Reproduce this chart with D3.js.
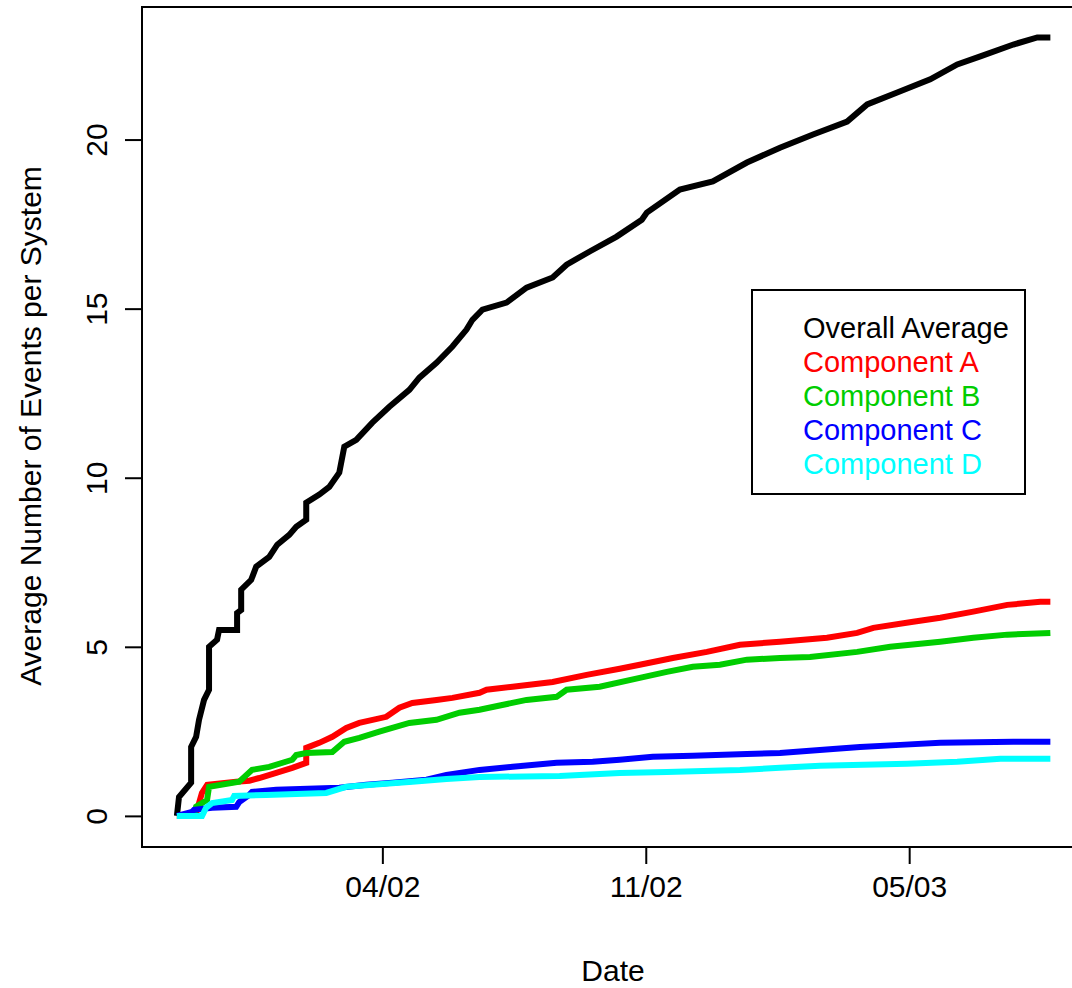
<!DOCTYPE html>
<html>
<head>
<meta charset="utf-8">
<script src="https://cdn.jsdelivr.net/npm/d3@7"></script>
<style>
    body { margin: 0; background: #fff; }
    text { font-family: "Liberation Sans", Arial, sans-serif; }
</style>
</head>
<body>
<div id="chart"></div>
<script>
// day index since start of tracking, cumulative average events per system
const overallAverage = [
    [44, 0], [45.6, 0.56], [54.8, 0.98], [54.8, 2.04], [58.6, 2.34], [60.8, 2.84], [64.6, 3.43],
    [68.4, 3.73], [68.4, 5.0], [74.5, 5.21], [76, 5.5], [89.7, 5.5], [89.7, 6.0], [92.8, 6.09],
    [92.8, 6.69], [100.4, 6.98], [104.2, 7.37], [114.1, 7.66], [120.2, 8.02], [129.3, 8.31],
    [134.6, 8.55], [142.2, 8.76], [142.2, 9.26], [152.1, 9.5], [159.7, 9.73], [167.3, 10.15],
    [171.1, 10.92], [180.2, 11.12], [192.4, 11.63], [205.3, 12.1], [220.5, 12.6], [228.1, 12.96],
    [241.1, 13.4], [253.2, 13.88], [263.9, 14.38], [268.4, 14.67], [276, 14.97], [294.3, 15.18],
    [309.5, 15.62], [329.3, 15.92], [339.9, 16.3], [357.4, 16.69], [377.9, 17.13], [397, 17.63],
    [400.8, 17.84], [425.9, 18.52], [450.9, 18.76], [476.8, 19.32], [501.9, 19.76], [527, 20.15],
    [552.9, 20.53], [568.1, 21.04], [590.9, 21.39], [616, 21.78], [636.5, 22.22], [654, 22.46],
    [679.1, 22.81], [697.3, 23.02], [707.2, 23.02]
];
const componentA = [
    [44, 0], [58, 0], [60, 0.27], [63, 0.68], [67, 0.92], [89, 1.01], [99, 1.04], [106.5, 1.12],
    [119.4, 1.27], [131.6, 1.42], [142.2, 1.57], [142.2, 2.01], [152.1, 2.16], [162, 2.34],
    [172.6, 2.6], [182.5, 2.75], [203, 2.93], [212.9, 3.2], [222.8, 3.34], [241.1, 3.43],
    [253.2, 3.49], [273.8, 3.64], [279.1, 3.73], [298.9, 3.82], [329.3, 3.96], [355.1, 4.17],
    [380.2, 4.35], [395.4, 4.47], [420.5, 4.67], [446.4, 4.85], [471.5, 5.06], [501.9, 5.15],
    [537.6, 5.27], [560.5, 5.41], [572.8, 5.56], [603, 5.74], [623.6, 5.86], [648.7, 6.04],
    [674.5, 6.24], [699.6, 6.33], [707.2, 6.33]
];
const componentB = [
    [44, 0], [57, 0], [58.6, 0.27], [66.9, 0.47], [68.4, 0.86], [91.3, 1.01], [101.1, 1.36],
    [114.1, 1.45], [131.6, 1.66], [134.6, 1.8], [142.2, 1.86], [162, 1.89], [171.1, 2.19],
    [182.5, 2.31], [197.7, 2.49], [220.5, 2.75], [241.1, 2.84], [258.6, 3.05], [273.8, 3.14],
    [283.7, 3.22], [309.5, 3.43], [332.3, 3.52], [339.9, 3.73], [365, 3.82], [395.4, 4.08],
    [416, 4.26], [435.7, 4.41], [456.3, 4.47], [476.8, 4.62], [501.9, 4.67], [524.7, 4.7],
    [560.5, 4.85], [585.6, 5.0], [623.6, 5.15], [648.7, 5.27], [674.5, 5.36], [707.2, 5.41]
];
const componentC = [
    [44, 0], [55.5, 0.12], [57, 0.18], [70.7, 0.24], [89, 0.27], [91.3, 0.41], [98.9, 0.62],
    [101.1, 0.71], [119.4, 0.77], [167.3, 0.83], [187.8, 0.92], [207.6, 0.98], [233.5, 1.07],
    [248.7, 1.21], [273.8, 1.36], [298.9, 1.45], [332.3, 1.57], [359.7, 1.6], [380.2, 1.66],
    [405.3, 1.75], [435.7, 1.78], [476.8, 1.83], [501.9, 1.86], [542.2, 1.98], [562.7, 2.04],
    [593.2, 2.1], [623.6, 2.16], [679.1, 2.19], [707.2, 2.19]
];
const componentD = [
    [44, 0], [63.1, 0], [66.2, 0.24], [70.7, 0.38], [85.9, 0.47], [87.5, 0.59], [111.8, 0.62],
    [157.4, 0.68], [172.6, 0.86], [192.4, 0.92], [222.8, 1.01], [248.7, 1.09], [273.8, 1.15],
    [334.6, 1.18], [380.2, 1.27], [416, 1.3], [471.5, 1.36], [501.9, 1.42], [532.3, 1.48],
    [598.5, 1.54], [636.5, 1.6], [669.2, 1.69], [707.2, 1.69]
];

const seriesNames = ["Overall Average", "Component A", "Component B", "Component C", "Component D"];
const seriesColors = ["#000000", "#ff0000", "#00cd00", "#0000ff", "#00ffff"];
const xTicks = [200, 400, 600];
const xTickLabels = ["04/02", "11/02", "05/03"];
const yTicks = [0, 5, 10, 15, 20];

const allSeries = [overallAverage, componentA, componentB, componentC, componentD];

const svg = d3.select("#chart")
    .append("svg")
    .attr("width", 1072)
    .attr("height", 988);

const plot = { left: 142, right: 1085, top: 7, bottom: 847 };

const xScale = d3.scaleLinear()
    .domain([17.5, 733.5])
    .range([plot.left, plot.right]);

const yScale = d3.scaleLinear()
    .domain([-0.92, 23.92])
    .range([plot.bottom, plot.top]);

var line = d3.line()
    .x(function (d) { return xScale(d[0]); })
    .y(function (d) { return yScale(d[1]); })
    .curve(d3.curveLinear);

allSeries.forEach(function (s, i) {
    svg.append("path")
        .datum(s)
        .attr("fill", "none")
        .attr("stroke", seriesColors[i])
        .attr("stroke-width", 6)
        .attr("stroke-linejoin", "miter")
        .attr("stroke-linecap", "butt")
        .attr("d", line);
});

// box
svg.append("rect")
    .attr("x", plot.left)
    .attr("y", plot.top)
    .attr("width", plot.right - plot.left)
    .attr("height", plot.bottom - plot.top)
    .attr("fill", "none")
    .attr("stroke", "#000")
    .attr("stroke-width", 2);

// x axis
var xAxis = svg.append("g")
    .attr("transform", "translate(0," + plot.bottom + ")")
    .call(d3.axisBottom(xScale)
        .tickValues(xTicks)
        .tickSize(17)
        .tickPadding(12)
        .tickFormat(function (d, i) { return xTickLabels[i]; }));
xAxis.select(".domain").remove();
xAxis.selectAll("line").attr("stroke-width", 2);
xAxis.selectAll("text")
    .attr("font-size", 30)
    .attr("font-family", "Liberation Sans, Arial, sans-serif")
    .attr("fill", "#000");

// y axis, labels parallel to the axis
var yAxis = svg.append("g")
    .attr("transform", "translate(" + plot.left + ",0)")
    .call(d3.axisLeft(yScale)
        .tickValues(yTicks)
        .tickSize(17));
yAxis.select(".domain").remove();
yAxis.selectAll("line").attr("stroke-width", 2);
yAxis.selectAll("text").remove();
yAxis.selectAll(".tick")
    .append("text")
    .attr("transform", "translate(-35,0) rotate(-90)")
    .attr("text-anchor", "middle")
    .attr("font-size", 30)
    .attr("font-family", "Liberation Sans, Arial, sans-serif")
    .attr("fill", "#000")
    .text(function (d) { return d; });

svg.append("text")
    .attr("x", 613)
    .attr("y", 981)
    .attr("text-anchor", "middle")
    .attr("font-size", 30)
    .text("Date");

svg.append("text")
    .attr("transform", "translate(41,426) rotate(-90)")
    .attr("text-anchor", "middle")
    .attr("font-size", 30)
    .text("Average Number of Events per System");

// legend
var legend = svg.append("g");
legend.append("rect")
    .attr("x", 752)
    .attr("y", 290)
    .attr("width", 273)
    .attr("height", 204)
    .attr("fill", "#fff")
    .attr("stroke", "#000")
    .attr("stroke-width", 2);
legend.selectAll("text.item")
    .data(seriesNames)
    .enter()
    .append("text")
    .attr("class", "item")
    .attr("x", 803)
    .attr("y", function (d, i) { return 338 + i * 34; })
    .attr("font-size", 29)
    .attr("fill", function (d, i) { return seriesColors[i]; })
    .text(function (d) { return d; });
</script>
</body>
</html>
